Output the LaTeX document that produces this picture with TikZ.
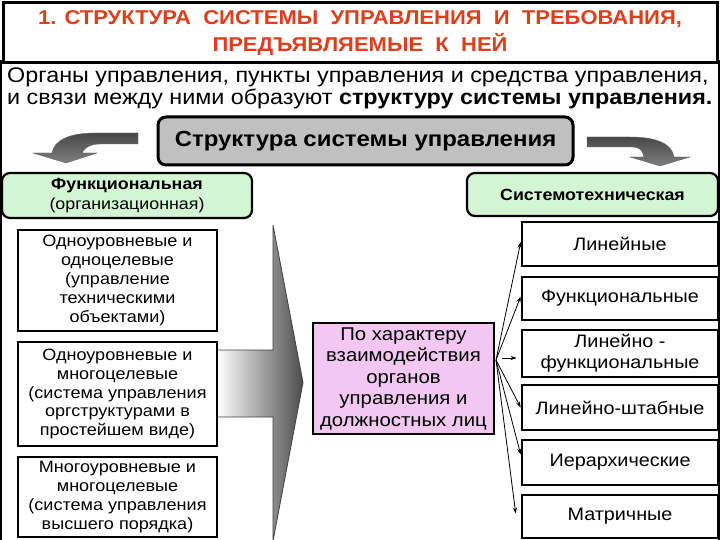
\documentclass[tikz,border=0pt]{standalone}
\usepackage{fontspec}
\setmainfont[FakeStretch=1.1]{Liberation Sans}
\usetikzlibrary{arrows.meta,calc}
\definecolor{titlered}{RGB}{222,62,28}
\definecolor{lgreen}{RGB}{212,245,212}
\definecolor{lpink}{RGB}{242,200,242}
\definecolor{cgray}{RGB}{192,192,192}
\begin{document}
\begin{tikzpicture}[x=1pt,y=-1pt,
  bx/.style={draw, line width=2.6pt, fill=white, align=center, inner sep=0pt},
  lbox/.style={bx, minimum width=199pt, font=\fontsize{16.4}{18.8}\selectfont},
  rbox/.style={bx, minimum width=196pt, font=\fontsize{18}{21}\selectfont},
  gbox/.style={bx, rounded corners=8pt, fill=lgreen, line width=2.2pt, font=\fontsize{16.2}{19.5}\selectfont},
  fan/.style={line width=0.8pt, -{Stealth[length=6pt,width=4pt]}},
  curv/.style={top color=black!72, bottom color=black!50, draw=black!60, line width=0.4pt}
]
\useasboundingbox (0,0) rectangle (720,540);
\fill[white] (0,0) rectangle (720,540);
% frame sides
\draw[line width=1.5pt] (1,60) -- (1,540);
\draw[line width=1.5pt] (719,60) -- (719,540);
% title
\node[bx, line width=3pt, minimum width=714pt, minimum height=60pt, text=titlered,
  font=\fontsize{20}{27}\selectfont\bfseries] (title) at (360,33)
  {1. СТРУКТУРА\ \ СИСТЕМЫ\ \ УПРАВЛЕНИЯ\ \ И\ \ ТРЕБОВАНИЯ,\\ПРЕДЪЯВЛЯЕМЫЕ\ \ К\ \ НЕЙ};
% body text
\node[anchor=west, align=left, inner sep=0pt, font=\fontsize{21.2}{22}\selectfont] (body) at (7,88)
  {Органы управления, пункты управления и средства управления,\\
   и связи между ними образуют \textbf{структуру системы управления.}};
% central box
\node[bx, rounded corners=8pt, fill=cgray, line width=3pt, minimum width=415pt, minimum height=48pt,
  font=\fontsize{21.8}{24}\selectfont\bfseries] (struct) at (365.5,141) {Структура системы управления};
% curved arrows
\path[curv] (138,133) -- (95,133) .. controls (70,133) and (54,140) .. (52,153)
  -- (33,153) -- (66,163) -- (97,153) -- (82,153)
  .. controls (84,148) and (90,144) .. (100,144) -- (138,144) -- cycle;
\path[curv] (587,137) -- (630,137) .. controls (655,137) and (672,143) .. (674,157)
  -- (690,157) -- (660,166) -- (630,157) -- (644,157)
  .. controls (643,151) and (640,147) .. (632,147) -- (587,147) -- cycle;
% green boxes
\node[gbox, minimum width=250pt, minimum height=45pt] (func) at (127,195.5)
  {\textbf{Функциональная}\\(организационная)};
\node[gbox, minimum width=251pt, minimum height=43pt] (sys) at (592.5,194.5)
  {\textbf{Системотехническая}};
% big arrow
\shade[left color=white, right color=black!70, draw=black!75, line width=0.8pt]
  (217,350) -- (273,350) -- (273,225) -- (303,382.5) -- (273,541) -- (273,417) -- (217,417) -- cycle;
% left boxes
\node[lbox, minimum height=101pt] (l1) at (117.5,280.5)
  {Одноуровневые и\\одноцелевые\\(управление\\техническими\\объектами)};
\node[lbox, minimum height=104pt] (l2) at (117.5,394)
  {Одноуровневые и\\многоцелевые\\(система управления\\оргструктурами в\\простейшем виде)};
\node[lbox, minimum height=80pt] (l3) at (117.5,497)
  {Многоуровневые и\\многоцелевые\\(система управления\\высшего порядка)};
% pink box
\node[bx, fill=lpink, minimum width=181pt, minimum height=111pt,
  font=\fontsize{18.5}{21.5}\selectfont] (pink) at (403.5,378.5)
  {По характеру\\взаимодействия\\органов\\управления и\\должностных лиц};
% right boxes
\node[rbox, minimum height=44pt] (r1) at (620,244) {Линейные};
\node[rbox, minimum height=43pt] (r2) at (620,298.5) {Функциональные};
\node[rbox, minimum height=47pt] (r3) at (620,353.5) {Линейно -\\функциональные};
\node[rbox, minimum height=45pt] (r4) at (620,407.5) {Линейно-штабные};
\node[rbox, minimum height=45pt] (r5) at (620,462.5) {Иерархические};
\node[rbox, minimum height=43pt] (r6) at (620,516.5) {Матричные};
% fan arrows
\coordinate (o) at (496,360);
\draw[fan] (o) -- ($(r1.west)+(0,-2)$);
\draw[fan] (o) -- ($(r2.west)+(0,-2)$);
\draw[fan] ($(o)+(6,-2)$) -- ($(r3.west |- o)+(-4,-2)$);
\draw[fan] (o) -- (r4.west);
\draw[fan] (o) -- ($(r5.west)+(0,-8)$);
\draw[fan] (o) -- ($(r6.west)+(-5,-3)$);
\end{tikzpicture}
\end{document}
